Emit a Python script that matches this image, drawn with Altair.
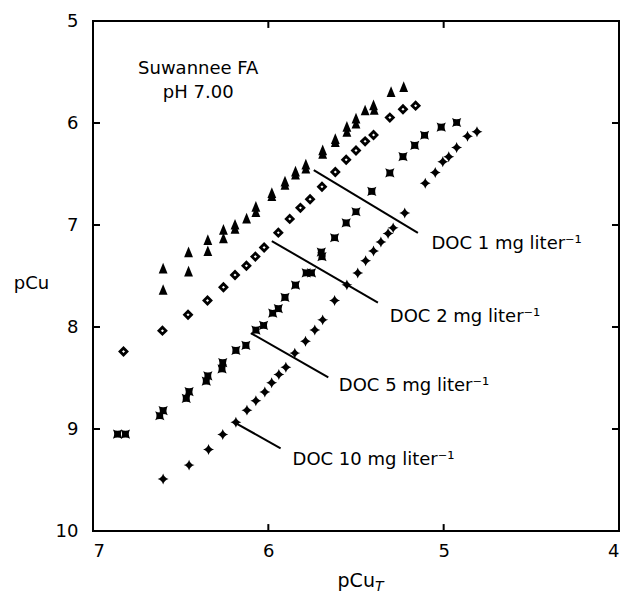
import altair as alt
import pandas as pd

# ---------------- data ----------------
doc1_x = [6.60, 6.60, 6.455, 6.455, 6.345, 6.345, 6.256, 6.256, 6.19, 6.19, 6.124,
          6.071, 6.071, 5.98, 5.98, 5.905, 5.905, 5.845, 5.845, 5.786, 5.786, 5.69,
          5.69, 5.618, 5.618, 5.552, 5.552, 5.50, 5.50, 5.448, 5.40, 5.396, 5.30, 5.228]
doc1_y = [7.43, 7.64, 7.27, 7.46, 7.15, 7.26, 7.05, 7.135, 7.00, 7.04, 6.94,
          6.825, 6.877, 6.69, 6.72, 6.577, 6.61, 6.48, 6.51, 6.41, 6.45, 6.27,
          6.305, 6.16, 6.19, 6.04, 6.09, 5.96, 6.01, 5.88, 5.83, 5.875, 5.70, 5.65]

doc2_x = [6.826, 6.604, 6.458, 6.347, 6.256, 6.19, 6.125, 6.074, 6.024, 5.943, 5.878,
          5.817, 5.762, 5.694, 5.618, 5.556, 5.50, 5.448, 5.40, 5.307, 5.232, 5.16]
doc2_y = [8.24, 8.036, 7.88, 7.74, 7.61, 7.49, 7.40, 7.31, 7.22, 7.075, 6.94,
          6.832, 6.747, 6.625, 6.48, 6.36, 6.27, 6.18, 6.117, 5.947, 5.865, 5.83]

doc5_x = [6.86, 6.815, 6.619, 6.60, 6.468, 6.452, 6.354, 6.345, 6.264, 6.26, 6.185,
          6.128, 6.071, 6.027, 5.975, 5.943, 5.905, 5.845, 5.784, 5.754, 5.698, 5.694,
          5.622, 5.556, 5.50, 5.41, 5.307, 5.232, 5.165, 5.109, 5.014, 4.926]
doc5_y = [9.05, 9.05, 8.87, 8.82, 8.70, 8.634, 8.53, 8.48, 8.41, 8.35, 8.23,
          8.18, 8.03, 7.985, 7.865, 7.82, 7.71, 7.59, 7.47, 7.47, 7.265, 7.31,
          7.125, 6.98, 6.87, 6.67, 6.49, 6.33, 6.22, 6.12, 6.04, 5.995]

doc10_x = [6.60, 6.452, 6.341, 6.26, 6.185, 6.122, 6.071, 6.02, 5.981, 5.94, 5.90,
           5.849, 5.788, 5.735, 5.69, 5.622, 5.552, 5.49, 5.445, 5.40, 5.358, 5.317,
           5.288, 5.222, 5.105, 5.048, 5.005, 4.971, 4.926, 4.864, 4.81]
doc10_y = [9.49, 9.354, 9.20, 9.053, 8.934, 8.815, 8.724, 8.637, 8.547, 8.466, 8.394,
           8.256, 8.14, 8.03, 7.93, 7.74, 7.587, 7.47, 7.35, 7.255, 7.167, 7.083,
           7.028, 6.883, 6.59, 6.485, 6.38, 6.33, 6.24, 6.13, 6.085]

label_text = ["DOC 1 mg liter\u207b\u00b9", "DOC 2 mg liter\u207b\u00b9",
              "DOC 5 mg liter\u207b\u00b9", "DOC 10 mg liter\u207b\u00b9"]
label_x = [5.07, 5.307, 5.598, 5.862]
label_y = [7.238, 7.955, 8.629, 9.35]
leader_x = [5.741, 5.98, 6.10, 6.194]
leader_y = [6.463, 7.158, 8.06, 8.934]
leader_x2 = [5.147, 5.375, 5.658, 5.93]
leader_y2 = [7.077, 7.76, 8.494, 9.19]

note_text = ["Suwannee FA", "pH 7.00"]
note_x = [6.40, 6.40]
note_y = [5.475, 5.707]

x_tick_values = [7, 6, 5, 4]
y_tick_values = [5, 6, 7, 8, 9, 10]
x_inner_ticks = [6, 5]
y_inner_ticks = [6, 7, 8, 9]

FONT = "DejaVu Sans"

# ---------------- scales / encodings ----------------
xs = alt.Scale(domain=[4, 7], reverse=True, nice=False, zero=False)
ys = alt.Scale(domain=[5, 10], reverse=True, nice=False, zero=False)
x_axis = alt.Axis(values=x_tick_values, format="d", grid=False, ticks=False, domain=False,
                  labelFontSize=18, labelFont=FONT, labelColor="black", labelPadding=11,
                  title=None)
y_axis = alt.Axis(values=y_tick_values, format="d", grid=False, ticks=False, domain=False,
                  labelFontSize=18, labelFont=FONT, labelColor="black", labelPadding=15,
                  title="pCu", titleAngle=0, titleFont=FONT, titleFontSize=18,
                  titleFontWeight="normal", titleColor="black", titleAlign="center",
                  titleBaseline="middle", titleX=-62, titleY=262)

X = lambda f: alt.X(f"{f}:Q", scale=xs, axis=x_axis)
Y = lambda f: alt.Y(f"{f}:Q", scale=ys, axis=y_axis)

tri = "M0,-1 L0.72,0.75 L-0.72,0.75 Z"
xstar = "M-1,-1 Q0,-0.45 1,-1 Q0.45,0 1,1 Q0,0.45 -1,1 Q-0.45,0 -1,-1 Z"
plus = "M0,-1 Q0.22,-0.22 1,0 Q0.22,0.22 0,1 Q-0.22,0.22 -1,0 Q-0.22,-0.22 0,-1 Z"

d1 = pd.DataFrame({"x": doc1_x, "y": doc1_y})
d2 = pd.DataFrame({"x": doc2_x, "y": doc2_y})
d5 = pd.DataFrame({"x": doc5_x, "y": doc5_y})
d10 = pd.DataFrame({"x": doc10_x, "y": doc10_y})

p1 = alt.Chart(d1).mark_point(shape=tri, filled=True, color="black", size=150, opacity=1).encode(x=X("x"), y=Y("y"))
p2 = alt.Chart(d2).mark_point(shape="diamond", filled=False, color="black", size=48,
                              strokeWidth=2.8, opacity=1).encode(x=X("x"), y=Y("y"))
p5 = alt.Chart(d5).mark_point(shape=xstar, filled=True, color="black", size=85, opacity=1).encode(x=X("x"), y=Y("y"))
p10 = alt.Chart(d10).mark_point(shape=plus, filled=True, color="black", size=120, opacity=1).encode(x=X("x"), y=Y("y"))

leaders = pd.DataFrame({"x": leader_x, "y": leader_y, "x2": leader_x2, "y2": leader_y2})
lead = alt.Chart(leaders).mark_rule(color="black", strokeWidth=2).encode(
    x=X("x"), y=Y("y"), x2="x2:Q", y2="y2:Q")

labels = pd.DataFrame({"t": label_text, "x": label_x, "y": label_y})
lab = alt.Chart(labels).mark_text(align="left", baseline="alphabetic", font=FONT,
                                  fontSize=18, color="black").encode(
    x=X("x"), y=Y("y"), text="t:N")

notes = pd.DataFrame({"t": note_text, "x": note_x, "y": note_y})
nt = alt.Chart(notes).mark_text(align="center", baseline="middle", font=FONT,
                                fontSize=18, color="black").encode(
    x=X("x"), y=Y("y"), text="t:N")

# inner ticks (box frame ticks pointing inward)
yt = pd.DataFrame({"y": y_inner_ticks})
lt = alt.Chart(yt).mark_rule(color="black", strokeWidth=2).encode(
    x=alt.datum(7, scale=xs), x2=alt.datum(6.96), y=Y("y"))
rt = alt.Chart(yt).mark_rule(color="black", strokeWidth=2).encode(
    x=alt.datum(4, scale=xs), x2=alt.datum(4.04), y=Y("y"))
xt = pd.DataFrame({"x": x_inner_ticks})
bt = alt.Chart(xt).mark_rule(color="black", strokeWidth=2).encode(
    x=X("x"), y=alt.datum(10, scale=ys), y2=alt.datum(9.932))
tt = alt.Chart(xt).mark_rule(color="black", strokeWidth=2).encode(
    x=X("x"), y=alt.datum(5, scale=ys), y2=alt.datum(5.068))

# x-axis title pCu with italic subscript T
xt_main = pd.DataFrame({"t": ["pCu"], "x": [5.392], "y": [10.545]})
xt_sub = pd.DataFrame({"t": ["T"], "x": [5.392], "y": [10.59]})
xtitle = alt.Chart(xt_main).mark_text(align="right", baseline="alphabetic", font=FONT,
                                      fontSize=19, color="black").encode(
    x=X("x"), y=Y("y"), text="t:N")
xsub = alt.Chart(xt_sub).mark_text(align="left", baseline="alphabetic", font=FONT,
                                   fontSize=14, fontStyle="italic", color="black").encode(
    x=X("x"), y=Y("y"), text="t:N")

chart = alt.layer(lt, rt, bt, tt, lead, p1, p2, p5, p10, lab, nt, xtitle, xsub).properties(
    width=526, height=510,
    padding={"left": 5, "top": 4, "right": 0, "bottom": 0},
    background="white",
).configure_view(stroke="black", strokeWidth=2)

chart.save("out.html", embed_options={"renderer": "svg", "actions": False})
